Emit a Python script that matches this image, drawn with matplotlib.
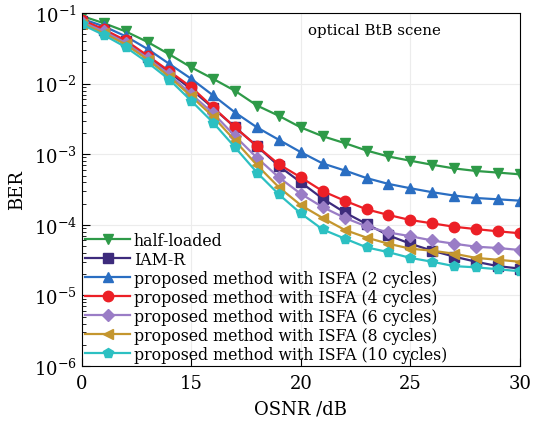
import numpy as np
import matplotlib
matplotlib.use("Agg")
import matplotlib.pyplot as plt

# OSNR axis (dB) and tick labels as printed on the figure
osnr = list(range(10, 31))
xtick_pos = [10, 15, 20, 25, 30]
xtick_labels = ["0", "15", "20", "25", "30"]

# BER curves
ber_half_loaded = [0.091, 0.072, 0.055, 0.039, 0.026, 0.017, 0.0117, 0.0079, 0.0049, 0.0035,
                   0.0024, 0.0018, 0.00144, 0.00113, 0.00093, 0.00081, 0.00071, 0.00063,
                   0.00058, 0.00055, 0.00052]
ber_iam_r = [0.078, 0.057, 0.040, 0.024, 0.0145, 0.0083, 0.0045, 0.0024, 0.0013, 0.00068,
             0.00040, 0.000235, 0.00015, 0.000103, 7.1e-5, 5.4e-5, 4.3e-5, 3.55e-5,
             3.0e-5, 2.6e-5, 2.4e-5]
ber_isfa_2 = [0.083, 0.065, 0.047, 0.031, 0.019, 0.0117, 0.0068, 0.0039, 0.0024, 0.0016,
              0.00107, 0.00074, 0.00059, 0.00046, 0.00038, 0.00033, 0.00029, 0.00026,
              0.00024, 0.00023, 0.00022]
ber_isfa_4 = [0.080, 0.059, 0.041, 0.025, 0.015, 0.0089, 0.0046, 0.0024, 0.0013, 0.00072,
              0.00047, 0.00030, 0.00022, 0.000166, 0.000138, 0.000117, 0.000105, 9.4e-5,
              8.7e-5, 8.1e-5, 7.6e-5]
ber_isfa_6 = [0.075, 0.055, 0.038, 0.023, 0.0135, 0.0071, 0.0038, 0.0018, 0.00089, 0.00047,
              0.000275, 0.000178, 0.000126, 9.5e-5, 7.8e-5, 6.9e-5, 6.0e-5, 5.4e-5,
              4.9e-5, 4.7e-5, 4.4e-5]
ber_isfa_8 = [0.071, 0.052, 0.036, 0.022, 0.0125, 0.0066, 0.0034, 0.00155, 0.0007, 0.00034,
              0.00019, 0.000125, 8.5e-5, 6.6e-5, 5.4e-5, 4.6e-5, 4.3e-5, 3.9e-5,
              3.4e-5, 3.2e-5, 3.0e-5]
ber_isfa_10 = [0.069, 0.049, 0.033, 0.020, 0.0114, 0.0057, 0.0028, 0.00125, 0.00055, 0.00027,
               0.000145, 8.6e-5, 6.4e-5, 4.8e-5, 4.1e-5, 3.4e-5, 3.0e-5, 2.6e-5,
               2.5e-5, 2.35e-5, 2.2e-5]

series = [
    ("half-loaded", ber_half_loaded, "#2E9A48", "v"),
    ("IAM-R", ber_iam_r, "#3D2B7C", "s"),
    ("proposed method with ISFA (2 cycles)", ber_isfa_2, "#2A6EC2", "^"),
    ("proposed method with ISFA (4 cycles)", ber_isfa_4, "#EC1F26", "o"),
    ("proposed method with ISFA (6 cycles)", ber_isfa_6, "#9A7DC6", "D"),
    ("proposed method with ISFA (8 cycles)", ber_isfa_8, "#C4962E", "<"),
    ("proposed method with ISFA (10 cycles)", ber_isfa_10, "#2CC0C2", "p"),
]

plt.rcParams["font.family"] = ["DejaVu Serif"]
plt.rcParams["mathtext.fontset"] = "dejavuserif"

fig = plt.figure(figsize=(5.42, 4.27), dpi=100)
ax = fig.add_axes([0.151, 0.1405, 0.808, 0.8265])

for label, vals, col, mk in series:
    ms = 7.5 if mk != "D" else 6
    ax.plot(osnr, vals, color=col, marker=mk, markersize=ms, linewidth=1.6, label=label)

ax.set_yscale("log")
ax.set_xlim(10, 30)
ax.set_ylim(1e-6, 1e-1)
ax.set_xticks(xtick_pos)
ax.set_xticklabels(xtick_labels)
ax.tick_params(axis="both", which="major", direction="in", length=6, labelsize=13)
ax.tick_params(axis="y", which="minor", direction="in", length=3)
ax.tick_params(axis="x", which="major", pad=6)
ax.grid(True, which="major", color="#ececec", linewidth=0.8)

ax.set_xlabel("OSNR /dB", fontsize=13, labelpad=5)
ax.set_ylabel("BER", fontsize=13, labelpad=6)

ax.text(23.35, 10 ** -1.24, "optical BtB scene", fontsize=10.8, ha="center", va="center")

ax.legend(loc="lower left", frameon=False, fontsize=11.3, handlelength=2.9,
          handletextpad=0.2, labelspacing=0.13, borderaxespad=0.1, borderpad=0.1)

fig.savefig("out.png", dpi=100)
